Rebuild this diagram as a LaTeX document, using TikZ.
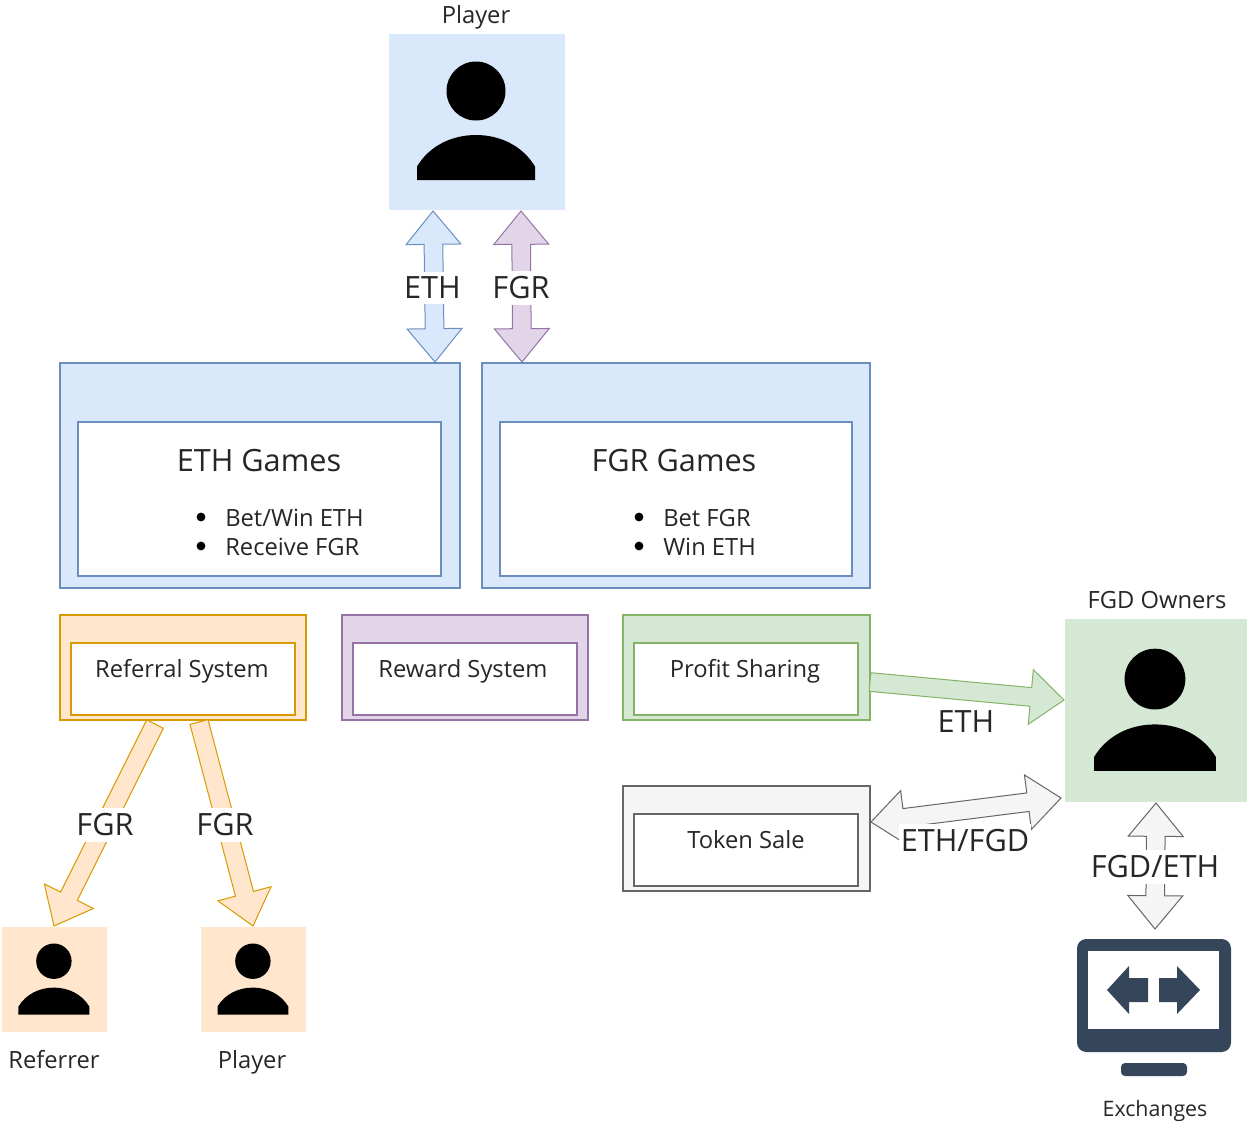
\documentclass[tikz,border=0pt]{standalone}
\usepackage{fontspec}
\setmainfont{Open Sans}
\usetikzlibrary{calc}

\definecolor{blueFill}{HTML}{DAE8FC}
\definecolor{blueLine}{HTML}{6C8EBF}
\definecolor{purpleFill}{HTML}{E1D5E7}
\definecolor{purpleLine}{HTML}{9673A6}
\definecolor{orangeFill}{HTML}{FFE6CC}
\definecolor{orangeLine}{HTML}{D79B00}
\definecolor{greenFill}{HTML}{D5E8D4}
\definecolor{greenLine}{HTML}{82B366}
\definecolor{grayFill}{HTML}{F5F5F5}
\definecolor{grayLine}{HTML}{666666}
\definecolor{screenDark}{HTML}{36465A}

\tikzset{
  size/.style 2 args={minimum width=#1*0.75pt, minimum height=#2*0.75pt},
  outerbox/.style={draw=#1Line, fill=#1Fill, line width=0.8pt, inner sep=0pt},
  innerbox/.style={draw=#1Line, fill=white, line width=0.8pt, inner sep=0pt},
  userbox/.style={fill=#1Fill, inner sep=0pt},
  fatarrow/.style={draw=#1Line, fill=#1Fill, line width=0.75pt, line join=miter},
  smalltext/.style={font=\fontsize{17.8}{21.8}\selectfont, text=black!85, inner sep=0pt},
  bigtext/.style={font=\fontsize{23}{27}\selectfont, text=black!85, inner sep=0pt},
  arrowtext/.style={bigtext, fill=white, inner xsep=1pt, inner ysep=4pt},
  listdot/.style={circle, fill=black, inner sep=0pt, minimum size=6.6pt},
  person/.pic={
    \fill[black] (-1,-30.5) circle (29.5);
    \fill[black] (-60,58.5) -- (-60,45) .. controls (-48,25) and (-26,13.5) .. (-1,13.5)
      .. controls (24,13.5) and (46,25) .. (58,45) -- (58,58.5) -- cycle;
  },
}

% shaft half width 7pt, head half width 20.6pt, head length 25pt
\newcommand{\singlearrow}[3]{
  \draw[fatarrow=#1] let \p1=($(#3)-(#2)$), \n1={atan2(\y1,\x1)}, \n2={veclen(\x1,\y1)} in
    [shift={(#2)},rotate=\n1] (0pt,-7pt) -- (\n2-25pt,-7pt) -- (\n2-25pt,-20.6pt) -- (\n2+0pt,0pt)
    -- (\n2-25pt,20.6pt) -- (\n2-25pt,7pt) -- (0pt,7pt) -- cycle;
}
\newcommand{\doublearrow}[3]{
  \draw[fatarrow=#1] let \p1=($(#3)-(#2)$), \n1={atan2(\y1,\x1)}, \n2={veclen(\x1,\y1)} in
    [shift={(#2)},rotate=\n1] (0pt,0pt) -- (25pt,-20.6pt) -- (25pt,-7pt) -- (\n2-25pt,-7pt)
    -- (\n2-25pt,-20.6pt) -- (\n2+0pt,0pt) -- (\n2-25pt,20.6pt) -- (\n2-25pt,7pt) -- (25pt,7pt)
    -- (25pt,20.6pt) -- cycle;
}

\begin{document}
\begin{tikzpicture}[x=0.75pt,y=-0.75pt]
  \useasboundingbox (0,0) rectangle (1247,1122);

  % users
  \node[userbox=blue, size={176}{176}] (player) at (477,121.5) {};
  \node[userbox=green, size={182}{183}] (owners) at (1156,710.5) {};
  \node[userbox=orange, size={105}{105}] (referrer) at (54.5,979.5) {};
  \node[userbox=orange, size={105}{105}] (player2) at (253.5,979.5) {};
  \pic at (player) {person};
  \pic[scale=1.03] at (owners) {person};
  \pic[scale=0.6] at (referrer) {person};
  \pic[scale=0.6] at (player2) {person};

  \node[smalltext] (playerText) at (476,17) {Player};
  \node[smalltext] (ownersText) at (1157,600) {FGD Owners};
  \node[smalltext] (referrerText) at (54,1060) {Referrer};
  \node[smalltext] (player2Text) at (252,1062) {Player};
  \node[smalltext, font=\fontsize{16}{20}\selectfont] (exchangesText) at (1155,1111) {Exchanges};

  % games
  \node[outerbox=blue, size={400}{225}] (ethOuter) at (260,475.5) {};
  \node[innerbox=blue, size={363}{154}] (ethInner) at (259.5,499) {};
  \node[outerbox=blue, size={388}{225}] (fgrOuter) at (676,475.5) {};
  \node[innerbox=blue, size={352}{154}] (fgrInner) at (676,499) {};
  \node[bigtext] (ethTitle) at (259,461) {ETH Games};
  \node[bigtext] (fgrTitle) at (674,461) {FGR Games};
  \node[listdot] (ethDotA) at (201,517) {};
  \node[listdot] (ethDotB) at (201,546) {};
  \node[listdot] (fgrDotA) at (639,517) {};
  \node[listdot] (fgrDotB) at (639,546) {};
  \node[smalltext, align=left, anchor=west] (ethList) at (225,532)
    {Bet/Win ETH\\Receive FGR};
  \node[smalltext, align=left, anchor=west] (fgrList) at (663,532)
    {Bet FGR\\Win ETH};

  % systems
  \node[outerbox=orange, size={246}{105}] (referralOuter) at (183,667.5) {};
  \node[innerbox=orange, size={224}{72}] (referralInner) at (183,679) {};
  \node[outerbox=purple, size={246}{105}] (rewardOuter) at (465,667.5) {};
  \node[innerbox=purple, size={224}{72}] (rewardInner) at (465,679) {};
  \node[outerbox=green, size={247}{105}] (profitOuter) at (746.5,667.5) {};
  \node[innerbox=green, size={224}{72}] (profitInner) at (746,679) {};
  \node[outerbox=gray, size={247}{105}] (tokenOuter) at (746.5,838.5) {};
  \node[innerbox=gray, size={224}{72}] (tokenInner) at (746,850) {};
  \node[smalltext] (referralText) at (182,671) {Referral System};
  \node[smalltext] (rewardText) at (463,671) {Reward System};
  \node[smalltext] (profitText) at (745,671) {Profit Sharing};
  \node[smalltext] (tokenText) at (746,840) {Token Sale};

  % exchange monitor
  \fill[screenDark, rounded corners=7pt] (1077,939) rectangle (1231,1052);
  \fill[white] (1088,951) rectangle (1219,1029);
  \fill[screenDark] (1107,990) -- (1129,966) -- (1129,978) -- (1148,978) -- (1148,1002)
    -- (1129,1002) -- (1129,1014) -- cycle;
  \fill[screenDark] (1200,990) -- (1177,966) -- (1177,978) -- (1159,978) -- (1159,1002)
    -- (1177,1002) -- (1177,1014) -- cycle;
  \fill[screenDark, rounded corners=3pt] (1121,1076) -- (1121,1063) -- (1187,1063) -- (1187,1076) -- cycle;

  % arrow ends
  \coordinate (ethTop) at (433,211);
  \coordinate (ethBottom) at (435,362);
  \coordinate (fgrTop) at (521,211);
  \coordinate (fgrBottom) at (522,362);
  \coordinate (referrerStart) at (155,724);
  \coordinate (referrerEnd) at (54,926);
  \coordinate (playerStart) at (199,722);
  \coordinate (playerEnd) at (253,926);
  \coordinate (profitEnd) at (1064,700);
  \coordinate (profitStart) at (870,682);
  \coordinate (tokenEnd) at (871,822);
  \coordinate (ownersEnd) at (1061,798);
  \coordinate (ownersBottom) at (1156,803);
  \coordinate (exchangesTop) at (1155,929);

  \doublearrow{blue}{ethTop}{ethBottom}
  \doublearrow{purple}{fgrTop}{fgrBottom}
  \singlearrow{orange}{referrerStart}{referrerEnd}
  \singlearrow{orange}{playerStart}{playerEnd}
  \singlearrow{green}{profitStart}{profitEnd}
  \doublearrow{gray}{tokenEnd}{ownersEnd}
  \doublearrow{gray}{ownersBottom}{exchangesTop}

  \node[arrowtext] (ethLabel) at (432.5,288) {ETH};
  \node[arrowtext] (fgrLabel) at (521,288) {FGR};
  \node[arrowtext] (referrerLabel) at (105,825) {FGR};
  \node[arrowtext] (playerLabel) at (225,825) {FGR};
  \node[bigtext] (profitLabel) at (966,722) {ETH};
  \node[arrowtext] (tokenLabel) at (965,841) {ETH/FGD};
  \node[arrowtext] (exchangeLabel) at (1155,867) {FGD/ETH};
\end{tikzpicture}
\end{document}
